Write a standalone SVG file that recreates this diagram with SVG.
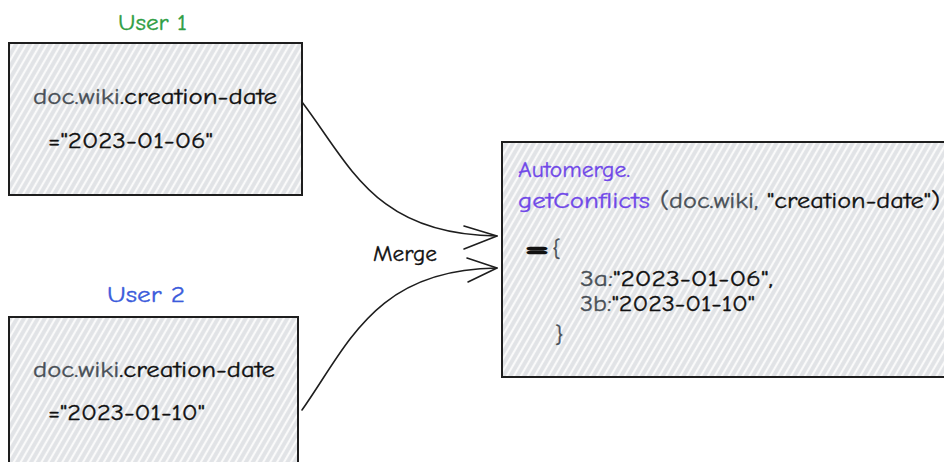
<svg xmlns="http://www.w3.org/2000/svg" width="944" height="462" viewBox="0 0 944 462">
  <defs>
    <!-- light hachure fill used by all boxes -->
    <pattern id="hatch" width="6" height="6" patternUnits="userSpaceOnUse" patternTransform="rotate(-60)">
      <rect width="6" height="6" fill="#e1e3e6"/>
      <line x1="0" y1="3" x2="6" y2="3" stroke="#fafafa" stroke-width="2.2"/>
    </pattern>
  </defs>
  <style>
    .box { fill: url(#hatch); stroke: #1e1e1e; stroke-width: 2; }
    .t { font-family: "Comic Neue", "Open Sans", "Liberation Sans", sans-serif; font-size: 23px; fill: #111111; stroke: #111111; stroke-width: 0.35; }
    .g { fill: #495057; stroke: #495057; }
    .p { fill: #7048e8; stroke: #7048e8; }
    .conn { fill: none; stroke: #1e1e1e; stroke-width: 1.6; stroke-linecap: round; stroke-linejoin: round; }
  </style>
  <rect width="944" height="462" fill="#ffffff"/>

  <g id="user1">
    <text class="t" x="118" y="30" style="fill:#2f9e44;stroke:#2f9e44" textLength="69" lengthAdjust="spacingAndGlyphs">User 1</text>
    <rect class="box" x="9" y="43" width="293" height="152"/>
    <text class="t" x="33" y="104" textLength="244" lengthAdjust="spacingAndGlyphs"><tspan class="g">doc.wiki</tspan>.creation-date</text>
    <text class="t" x="48" y="148" textLength="165" lengthAdjust="spacingAndGlyphs">="2023-01-06"</text>
  </g>

  <g id="user2">
    <text class="t" x="107" y="302" style="fill:#3b5bdb;stroke:#3b5bdb" textLength="78" lengthAdjust="spacingAndGlyphs">User 2</text>
    <rect class="box" x="9" y="317" width="289" height="160"/>
    <text class="t" x="33" y="377" textLength="242" lengthAdjust="spacingAndGlyphs"><tspan class="g">doc.wiki</tspan>.creation-date</text>
    <text class="t" x="48" y="420" textLength="157" lengthAdjust="spacingAndGlyphs">="2023-01-10"</text>
  </g>

  <g id="result">
    <rect class="box" x="502" y="142" width="460" height="235"/>
    <text class="t p" x="518" y="177" textLength="112" lengthAdjust="spacingAndGlyphs">Automerge.</text>
    <text class="t p" x="518" y="208" textLength="132" lengthAdjust="spacingAndGlyphs">getConflicts</text>
    <text class="t" x="660" y="208" textLength="280" lengthAdjust="spacingAndGlyphs"><tspan class="g">(doc.wiki, </tspan>"creation-date")</text>
    <text class="t" x="526" y="256" style="stroke-width:2.2" textLength="22" lengthAdjust="spacingAndGlyphs">=</text>
    <text class="t g" x="552" y="256">{</text>
    <text class="t" x="580" y="286" textLength="193" lengthAdjust="spacingAndGlyphs"><tspan class="g">3a:</tspan>"2023-01-06",</text>
    <text class="t" x="580" y="311" textLength="175" lengthAdjust="spacingAndGlyphs"><tspan class="g">3b:</tspan>"2023-01-10"</text>
    <text class="t g" x="555" y="342">}</text>
  </g>

  <g id="connectors">
    <path class="conn" d="M302,102 C350,165 375,235 497,236"/>
    <path class="conn" d="M464,226 L497,236 L464,249"/>
    <path class="conn" d="M302,410 C348,345 375,269 497,268"/>
    <path class="conn" d="M467,258 L497,268 L468,282"/>
    <text class="t" x="373" y="261" textLength="64" lengthAdjust="spacingAndGlyphs">Merge</text>
  </g>
</svg>
